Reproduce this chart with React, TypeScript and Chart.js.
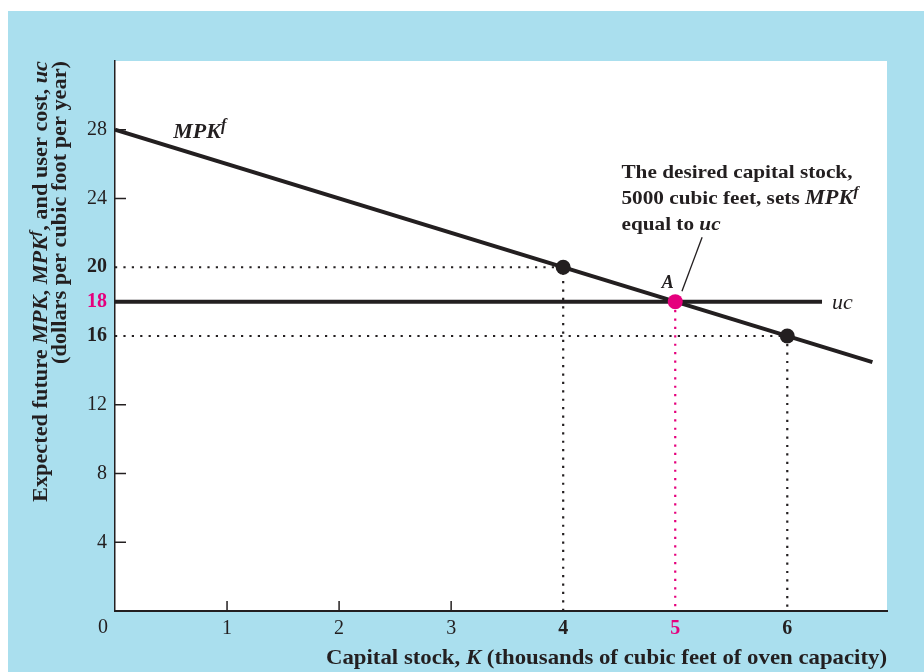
import React, { useEffect, useRef } from "react";
import { Chart, registerables } from "chart.js";

Chart.register(...registerables);

// ---- data ----
const mpkX = [0, 6.76];
const mpkY = [28, 14.48];
const ucX = [0, 6.31];
const ucY = [18, 18];
const blackPointsX = [4, 6];
const blackPointsY = [20, 16];
const eqPointX = [5];
const eqPointY = [18];
const guide20X = [0, 4, 4];
const guide20Y = [20, 20, 0];
const guide16X = [0, 6, 6];
const guide16Y = [16, 16, 0];
const guide18X = [5, 5];
const guide18Y = [18, 0];
const xTickValues = [1, 2, 3, 4, 5, 6];
const yTickValues = [4, 8, 12, 16, 18, 20, 24, 28];
const boldXTicks = [4, 5, 6];
const boldYTicks = [16, 18, 20];
const pinkXTicks = [5];
const pinkYTicks = [18];
const innerXTicks = [1, 2, 3];
const innerYTicks = [4, 8, 12, 24, 28];
const xMax = 6.89;
const yMax = 32;

// annotation anchors (data units)
const mpkLabelPos = [0.52, 27.5];
const aLabelPos = [4.88, 18.78];
const ucLabelPos = [6.4, 17.6];
const notePos = [4.52, 25.17];
const leaderFrom = [5.24, 21.75];
const leaderTo = [5.06, 18.6];

const FONT = '"Liberation Serif", "Times New Roman", serif';
const DARK = "#231f20";
const PINK = "#e5007d";
const BLUE = "#aadfee";

const zip = (xs: number[], ys: number[]) => xs.map((x, i) => ({ x, y: ys[i] }));

type Run = { t: string; b?: boolean; i?: boolean; size: number; sup?: boolean };

function fontOf(r: Run) {
  const s = r.sup ? Math.round(r.size * 0.72) : r.size;
  return `${r.i ? "italic " : ""}${r.b ? "bold " : ""}${s}px ${FONT}`;
}

function measureRuns(ctx: CanvasRenderingContext2D, runs: Run[]) {
  let w = 0;
  for (const r of runs) {
    ctx.font = fontOf(r);
    w += ctx.measureText(r.t).width;
  }
  return w;
}

function drawRuns(
  ctx: CanvasRenderingContext2D,
  runs: Run[],
  x: number,
  y: number,
  opts: { align?: "left" | "right"; scale?: number; rotate?: boolean; color?: string }
) {
  const total = measureRuns(ctx, runs);
  const sc = opts.scale ?? 1;
  ctx.save();
  ctx.translate(x, y);
  if (opts.rotate) ctx.rotate(-Math.PI / 2);
  ctx.scale(sc, 1);
  ctx.fillStyle = opts.color ?? DARK;
  ctx.textBaseline = "alphabetic";
  ctx.textAlign = "left";
  let cx = opts.align === "right" ? -total : 0;
  for (const r of runs) {
    ctx.font = fontOf(r);
    const dy = r.sup ? -r.size * 0.4 : 0;
    ctx.fillText(r.t, cx, dy);
    cx += ctx.measureText(r.t).width;
  }
  ctx.restore();
}

const backgroundPlugin = {
  id: "bgPlugin",
  beforeDraw(chart: any) {
    const { ctx, chartArea, width, height } = chart;
    ctx.save();
    ctx.fillStyle = "#ffffff";
    ctx.fillRect(0, 0, width, height);
    ctx.fillStyle = BLUE;
    ctx.fillRect(8, 11, width - 8, height - 11);
    ctx.fillStyle = "#ffffff";
    ctx.fillRect(chartArea.left, chartArea.top, chartArea.right - chartArea.left, chartArea.bottom - chartArea.top);
    ctx.restore();
  },
};

const overlayPlugin = {
  id: "overlayPlugin",
  afterDraw(chart: any) {
    const { ctx, chartArea, scales } = chart;
    const xs = scales.x;
    const ys = scales.y;
    const px = (v: number) => xs.getPixelForValue(v);
    const py = (v: number) => ys.getPixelForValue(v);

    // inner tick marks
    ctx.save();
    ctx.strokeStyle = DARK;
    ctx.lineWidth = 1.5;
    for (const v of innerYTicks) {
      ctx.beginPath();
      ctx.moveTo(chartArea.left, py(v));
      ctx.lineTo(chartArea.left + 11, py(v));
      ctx.stroke();
    }
    for (const v of innerXTicks) {
      ctx.beginPath();
      ctx.moveTo(px(v), chartArea.bottom);
      ctx.lineTo(px(v), chartArea.bottom - 10);
      ctx.stroke();
    }
    // leader line
    ctx.lineWidth = 1.3;
    ctx.beginPath();
    ctx.moveTo(px(leaderFrom[0]), py(leaderFrom[1]));
    ctx.lineTo(px(leaderTo[0]), py(leaderTo[1]));
    ctx.stroke();
    ctx.restore();

    // origin label "0"
    ctx.save();
    ctx.font = `20px ${FONT}`;
    ctx.fillStyle = DARK;
    ctx.textAlign = "center";
    ctx.textBaseline = "alphabetic";
    ctx.fillText("0", chartArea.left - 12, chartArea.bottom + 22);
    ctx.restore();

    // x title
    const xTitle: Run[] = [
      { t: "Capital stock, ", b: true, size: 21 },
      { t: "K", b: true, i: true, size: 21 },
      { t: " (thousands of cubic feet of oven capacity)", b: true, size: 21 },
    ];
    const xw = measureRuns(ctx, xTitle);
    drawRuns(ctx, xTitle, chartArea.right, chartArea.bottom + 53, { align: "right", scale: 561 / xw });

    // y title
    const yTitle1: Run[] = [
      { t: "Expected future ", b: true, size: 20 },
      { t: "MPK", b: true, i: true, size: 20 },
      { t: ", ", b: true, size: 20 },
      { t: "MPK", b: true, i: true, size: 20 },
      { t: "f", b: true, i: true, size: 20, sup: true },
      { t: ", and user cost, ", b: true, size: 20 },
      { t: "uc", b: true, i: true, size: 20 },
    ];
    const yTitle2: Run[] = [{ t: "(dollars per cubic foot per year)", b: true, size: 20 }];
    const yw = measureRuns(ctx, yTitle1);
    const ysc = 441 / yw;
    drawRuns(ctx, yTitle1, 47, chartArea.top, { align: "right", scale: ysc, rotate: true });
    drawRuns(ctx, yTitle2, 66, chartArea.top, { align: "right", scale: ysc, rotate: true });

    // MPK^f label
    drawRuns(
      ctx,
      [
        { t: "MPK", i: true, b: true, size: 22 },
        { t: "f", i: true, b: true, size: 22, sup: true },
      ],
      px(mpkLabelPos[0]),
      py(mpkLabelPos[1]),
      {}
    );
    // A label
    drawRuns(ctx, [{ t: "A", i: true, b: true, size: 18 }], px(aLabelPos[0]), py(aLabelPos[1]), {});
    // uc label
    drawRuns(ctx, [{ t: "uc", i: true, size: 22 }], px(ucLabelPos[0]), py(ucLabelPos[1]), {});

    // note
    const n1: Run[] = [{ t: "The desired capital stock,", b: true, size: 19 }];
    const n2: Run[] = [
      { t: "5000 cubic feet, sets ", b: true, size: 19 },
      { t: "MPK", i: true, b: true, size: 20 },
      { t: "f", i: true, b: true, size: 20, sup: true },
    ];
    const n3: Run[] = [
      { t: "equal to ", b: true, size: 19 },
      { t: "uc", i: true, b: true, size: 19 },
    ];
    const nsc = 231 / measureRuns(ctx, n1);
    const nx = px(notePos[0]);
    const ny = py(notePos[1]);
    drawRuns(ctx, n1, nx, ny, { scale: nsc });
    drawRuns(ctx, n2, nx, ny + 26, { scale: nsc });
    drawRuns(ctx, n3, nx, ny + 52, { scale: nsc });
  },
};

export default function App() {
  const ref = useRef<HTMLCanvasElement | null>(null);
  useEffect(() => {
    if (!ref.current) return;
    const dotted = (xsArr: number[], ysArr: number[], color: string) => ({
      data: zip(xsArr, ysArr),
      showLine: true,
      borderColor: color,
      borderWidth: 2.2,
      borderDash: [2.2, 6.2],
      pointRadius: 0,
      fill: false,
    });
    const chart = new Chart(ref.current, {
      type: "scatter",
      data: {
        datasets: [
          {
            data: zip(eqPointX, eqPointY),
            pointRadius: 7.5,
            pointBackgroundColor: PINK,
            pointBorderColor: PINK,
            pointBorderWidth: 0,
            showLine: false,
          },
          {
            data: zip(blackPointsX, blackPointsY),
            pointRadius: 7.5,
            pointBackgroundColor: DARK,
            pointBorderColor: DARK,
            pointBorderWidth: 0,
            showLine: false,
          },
          {
            data: zip(mpkX, mpkY),
            showLine: true,
            borderColor: DARK,
            borderWidth: 4,
            pointRadius: 0,
          },
          {
            data: zip(ucX, ucY),
            showLine: true,
            borderColor: DARK,
            borderWidth: 4,
            pointRadius: 0,
          },
          dotted(guide18X, guide18Y, PINK),
          dotted(guide20X, guide20Y, DARK),
          dotted(guide16X, guide16Y, DARK),
        ] as any,
      },
      options: {
        animation: false,
        responsive: false,
        devicePixelRatio: 1,
        layout: { padding: { left: 0, top: 61, right: 37, bottom: 0 } },
        plugins: { legend: { display: false }, tooltip: { enabled: false } },
        events: [],
        scales: {
          x: {
            type: "linear",
            min: 0,
            max: xMax,
            afterBuildTicks: (s: any) => {
              s.ticks = xTickValues.map((v) => ({ value: v }));
            },
            afterFit: (s: any) => {
              s.height = 61;
              s.paddingLeft = 0;
              s.paddingRight = 0;
              s.paddingTop = 0;
              s.paddingBottom = 0;
            },
            grid: { display: true, drawOnChartArea: false, drawTicks: false },
            border: { display: true, color: DARK, width: 2 },
            ticks: {
              padding: 6,
              maxRotation: 0,
              autoSkip: false,
              callback: (v: any) => String(v),
              color: (c: any) => (pinkXTicks.includes(c.tick?.value) ? PINK : DARK),
              font: (c: any) => ({
                family: FONT,
                size: 20,
                weight: boldXTicks.includes(c.tick?.value) ? "bold" : "normal",
              }),
            },
          },
          y: {
            type: "linear",
            min: 0,
            max: yMax,
            afterBuildTicks: (s: any) => {
              s.ticks = yTickValues.map((v) => ({ value: v }));
            },
            afterFit: (s: any) => {
              s.width = 115;
              s.paddingLeft = 0;
              s.paddingRight = 0;
              s.paddingTop = 0;
              s.paddingBottom = 0;
            },
            grid: { display: true, drawOnChartArea: false, drawTicks: false },
            border: { display: true, color: DARK, width: 1.5 },
            ticks: {
              padding: 8,
              autoSkip: false,
              callback: (v: any) => String(v),
              color: (c: any) => (pinkYTicks.includes(c.tick?.value) ? PINK : DARK),
              font: (c: any) => ({
                family: FONT,
                size: 20,
                weight: boldYTicks.includes(c.tick?.value) ? "bold" : "normal",
              }),
            },
          },
        },
      } as any,
      plugins: [backgroundPlugin, overlayPlugin],
    });
    return () => chart.destroy();
  }, []);
  return (
    <div style={{ position: "fixed", left: 0, top: 0, width: 924, height: 672 }}>
      <canvas ref={ref} width={924} height={672} style={{ width: 924, height: 672, display: "block" }} />
    </div>
  );
}
